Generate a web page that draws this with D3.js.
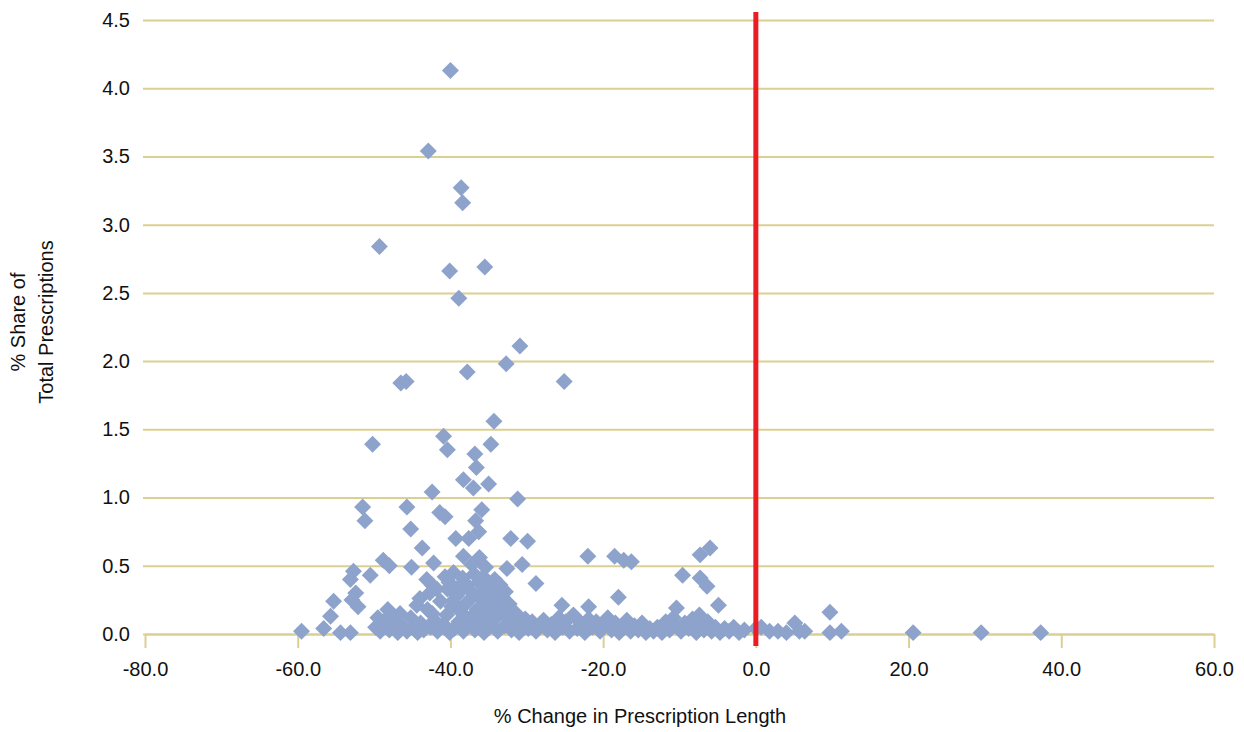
<!DOCTYPE html>
<html lang="en">
<head>
    <meta charset="UTF-8">
    <title>scatter</title>
    <script src="https://cdn.jsdelivr.net/npm/d3@7"></script>
    <style>
        * { padding: 0; margin: 0; }
        body { background: #fff; }
        svg { display: block; font-family: "Liberation Sans Narrow", "Arial Narrow", "Liberation Sans", sans-serif; }
    </style>
</head>
<body>
    <div class="context"></div>
    <script>
        // axis ticks
        let xTicks = [-80, -60, -40, -20, 0, 20, 40, 60];
        let yTicks = [0, 0.5, 1.0, 1.5, 2.0, 2.5, 3.0, 3.5, 4.0, 4.5];

        // % change in prescription length (x), % share of total prescriptions (y)
        let highPoints = [
            [-40.0, 4.13], [-42.9, 3.54], [-38.6, 3.27], [-38.4, 3.16], [-49.3, 2.84],
            [-40.1, 2.66], [-35.5, 2.69], [-38.9, 2.46], [-30.9, 2.11], [-32.7, 1.98],
            [-37.8, 1.92], [-46.5, 1.84], [-45.8, 1.85], [-25.1, 1.85], [-34.3, 1.56],
            [-50.2, 1.39], [-40.9, 1.45], [-40.4, 1.35], [-34.7, 1.39], [-36.8, 1.32],
            [-36.6, 1.22]
        ];
        let midPoints = [
            [-38.3, 1.13], [-37.0, 1.07], [-35.0, 1.10], [-31.2, 0.99], [-42.4, 1.04],
            [-51.5, 0.93], [-51.2, 0.83], [-45.7, 0.93], [-41.4, 0.89], [-40.7, 0.86],
            [-35.9, 0.91], [-36.7, 0.83], [-36.3, 0.75], [-45.2, 0.77], [-39.3, 0.70],
            [-37.6, 0.70], [-32.1, 0.70], [-29.9, 0.68], [-43.7, 0.63], [-38.3, 0.57],
            [-37.2, 0.51], [-36.2, 0.56], [-35.4, 0.49], [-32.6, 0.48], [-30.6, 0.51],
            [-28.8, 0.37], [-22.0, 0.57], [-18.5, 0.57], [-17.3, 0.54], [-16.3, 0.53],
            [-18.0, 0.27], [-7.3, 0.58], [-6.0, 0.63], [-9.6, 0.43], [-7.3, 0.41],
            [-6.4, 0.35], [-48.8, 0.54], [-48.0, 0.50], [-45.1, 0.49], [-42.2, 0.52],
            [-52.7, 0.46], [-53.1, 0.40], [-50.5, 0.43], [-43.1, 0.40], [-42.4, 0.36],
            [-42.7, 0.30], [-40.7, 0.42], [-40.4, 0.33], [-52.4, 0.30], [-52.9, 0.25],
            [-52.1, 0.20], [-55.3, 0.24], [-44.4, 0.21], [-55.7, 0.13], [-47.9, 0.14],
            [-42.4, 0.15], [-59.5, 0.02], [-56.6, 0.04], [-54.4, 0.01], [-53.1, 0.01],
            [-40.2, 0.38], [-39.6, 0.45], [-39.0, 0.34], [-38.4, 0.41], [-37.8, 0.36],
            [-36.9, 0.44], [-36.3, 0.38], [-35.7, 0.42], [-34.9, 0.35], [-34.2, 0.40],
            [-33.5, 0.36], [-32.8, 0.31], [-41.8, 0.33], [-37.5, 0.25], [-36.0, 0.30],
            [-34.5, 0.27], [-33.0, 0.20], [-25.4, 0.21], [-21.9, 0.20], [-10.4, 0.19],
            [-7.4, 0.14], [-4.9, 0.21], [-49.5, 0.12], [-48.2, 0.18], [-46.6, 0.15],
            [-44.0, 0.26], [-39.7, 0.24], [-38.8, 0.31], [-35.3, 0.22], [-33.9, 0.24]
        ];
        let lowPoints = [
            [-49.8, 0.05], [-49.2, 0.02], [-48.6, 0.08], [-48.0, 0.03], [-47.4, 0.10],
            [-46.9, 0.01], [-46.3, 0.06], [-45.7, 0.02], [-45.2, 0.12], [-44.8, 0.04],
            [-44.3, 0.01], [-43.9, 0.08], [-43.5, 0.03], [-43.0, 0.18], [-42.6, 0.05],
            [-42.1, 0.10], [-41.7, 0.02], [-41.3, 0.24], [-40.9, 0.07], [-40.5, 0.14],
            [-40.1, 0.01], [-39.8, 0.20], [-39.5, 0.04], [-39.2, 0.28], [-38.9, 0.09],
            [-38.6, 0.16], [-38.3, 0.02], [-38.0, 0.22], [-37.7, 0.06], [-37.4, 0.12],
            [-37.1, 0.30], [-36.8, 0.03], [-36.5, 0.18], [-36.2, 0.08], [-35.9, 0.25],
            [-35.6, 0.01], [-35.3, 0.13], [-35.0, 0.05], [-34.7, 0.20], [-34.4, 0.10],
            [-34.1, 0.33], [-33.8, 0.02], [-33.5, 0.16], [-33.2, 0.27], [-32.9, 0.06],
            [-32.6, 0.12], [-32.3, 0.22], [-32.0, 0.03], [-31.7, 0.09], [-31.4, 0.15],
            [-31.0, 0.01], [-30.6, 0.07], [-30.2, 0.11], [-29.8, 0.04], [-29.3, 0.09],
            [-28.8, 0.02], [-28.3, 0.06], [-27.8, 0.10], [-27.3, 0.03], [-26.8, 0.07],
            [-26.3, 0.01], [-25.8, 0.12], [-25.3, 0.05], [-24.9, 0.09], [-24.4, 0.02],
            [-23.9, 0.14], [-23.4, 0.04], [-22.9, 0.08], [-22.4, 0.01], [-21.9, 0.11],
            [-21.4, 0.05], [-20.9, 0.09], [-20.4, 0.02], [-19.9, 0.07], [-19.4, 0.12],
            [-18.9, 0.03], [-18.4, 0.08], [-17.9, 0.01], [-17.4, 0.05], [-16.9, 0.10],
            [-16.4, 0.02], [-15.9, 0.06], [-15.4, 0.03], [-14.9, 0.08], [-14.4, 0.01],
            [-13.9, 0.04], [-13.4, 0.02], [-12.9, 0.05], [-12.3, 0.01], [-11.8, 0.09],
            [-11.3, 0.03], [-10.8, 0.12], [-10.3, 0.05], [-9.8, 0.02], [-9.3, 0.08],
            [-8.8, 0.04], [-8.3, 0.11], [-7.8, 0.01], [-7.3, 0.06], [-6.8, 0.03],
            [-6.3, 0.09], [-5.8, 0.02], [-5.3, 0.05], [-4.7, 0.01], [-4.1, 0.04],
            [-3.5, 0.02], [-2.9, 0.05], [-2.2, 0.01], [-1.5, 0.03],
            [0.0, 0.04], [0.7, 0.05], [1.8, 0.02], [2.9, 0.02], [4.0, 0.01],
            [5.1, 0.08], [5.7, 0.02], [6.4, 0.02], [9.7, 0.16], [9.7, 0.01],
            [11.2, 0.02], [20.6, 0.01], [29.5, 0.01], [37.3, 0.01]
        ];
        let allPoints = lowPoints.concat(midPoints, highPoints);

        let W = 1244, H = 732;
        let gridColor = "#dccf92";
        let dotColor = "#8ea3cb";
        // plain hyphen for negatives, like the original
        let fmt = d => d3.format(".1f")(d).replace("\u2212", "-");

        let svg = d3.select(".context").append("svg")
            .attr("width", W)
            .attr("height", H);

        let x = d3.scaleLinear().domain([-80, 60]).range([145, 1214]);
        let y = d3.scaleLinear().domain([0, 4.5]).range([634, 20]);

        // horizontal gridlines + y labels
        let yAxis = svg.append("g")
            .attr("transform", "translate(143,0)")
            .call(d3.axisLeft(y).tickValues(yTicks).tickFormat(fmt)
                .tickSize(-(1214 - 143)).tickPadding(13));
        yAxis.select(".domain").remove();
        yAxis.selectAll("line").attr("stroke", gridColor).attr("stroke-width", 2);
        yAxis.selectAll("text").attr("font-size", 20).attr("fill", "#111");

        // x axis
        let xAxis = svg.append("g")
            .attr("transform", "translate(0,634)")
            .call(d3.axisBottom(x).tickValues(xTicks).tickFormat(fmt)
                .tickSize(14).tickSizeOuter(0).tickPadding(14));
        xAxis.select(".domain").attr("stroke", gridColor).attr("stroke-width", 2);
        xAxis.selectAll("line").attr("stroke", gridColor).attr("stroke-width", 2);
        xAxis.selectAll("text").attr("font-size", 20).attr("fill", "#111");

        // points
        let diamond = d3.symbol().type(d3.symbolSquare).size(144);
        svg.append("g").selectAll("path")
            .data(allPoints)
            .enter().append("path")
            .attr("d", diamond)
            .attr("transform", d => "translate(" + x(d[0]) + "," + y(d[1]) + ") rotate(45)")
            .attr("fill", dotColor);

        // zero line
        svg.append("line")
            .attr("x1", x(0)).attr("x2", x(0))
            .attr("y1", 12).attr("y2", 646)
            .attr("stroke", "#ed1c24")
            .attr("stroke-width", 5);

        // axis titles
        svg.append("text")
            .attr("x", 640).attr("y", 723)
            .attr("text-anchor", "middle")
            .attr("font-size", 20)
            .attr("fill", "#111")
            .text("% Change in Prescription Length");

        let yTitle = svg.append("text")
            .attr("transform", "translate(0,322) rotate(-90)")
            .attr("text-anchor", "middle")
            .attr("font-size", 20)
            .attr("fill", "#111");
        yTitle.append("tspan").attr("x", 0).attr("y", 25).text("% Share of");
        yTitle.append("tspan").attr("x", 0).attr("y", 53).text("Total Prescriptions");
    </script>
</body>
</html>
